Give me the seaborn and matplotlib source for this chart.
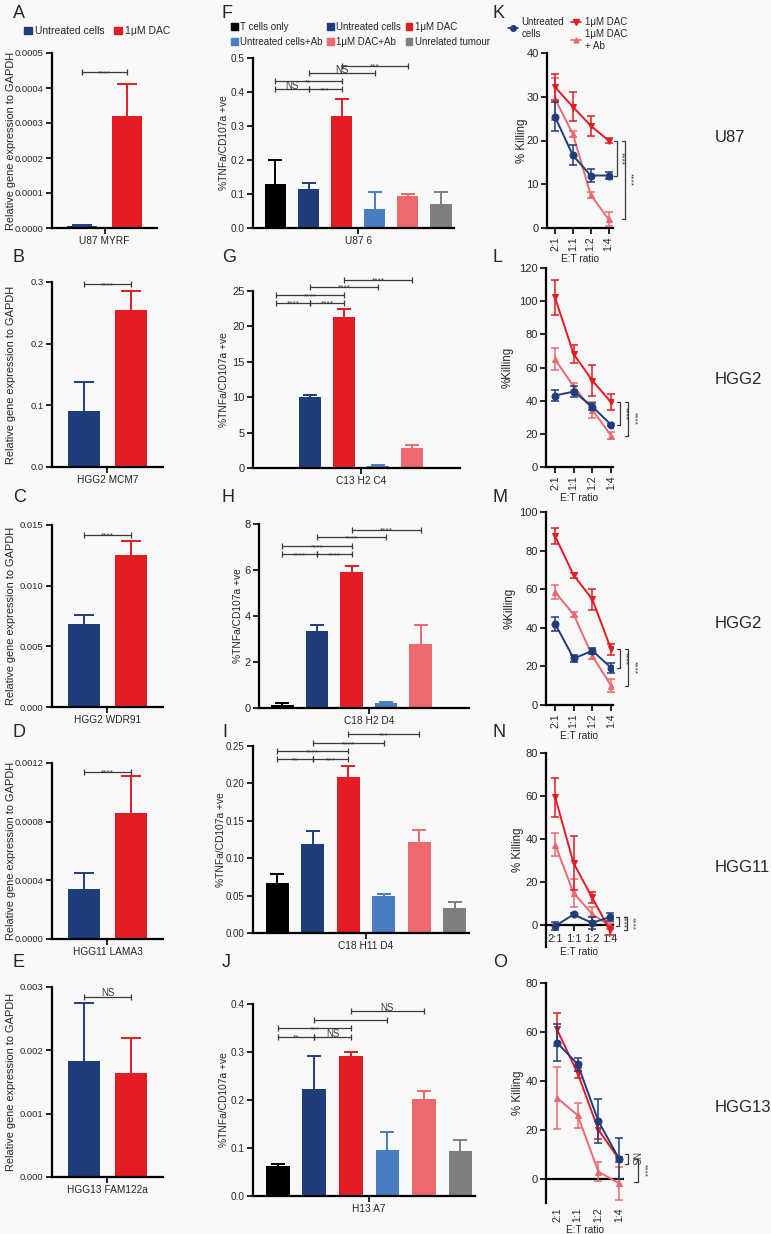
import numpy as np
import pandas as pd
import matplotlib
matplotlib.use('Agg')
import matplotlib.pyplot as plt
import matplotlib.transforms as mtransforms
import seaborn as sns
from matplotlib.patches import Patch
from matplotlib.lines import Line2D
from matplotlib.ticker import FormatStrFormatter, MultipleLocator

# ---------------- data ----------------
# column 1: qPCR
genes = ["U87 MYRF", "HGG2 MCM7", "HGG2 WDR91", "HGG11 LAMA3", "HGG13 FAM122a"]
treatments = ["Untreated cells", "1\u03bcM DAC"]
qpcr_untreated = [0.000005, 0.091, 0.0068, 0.00034, 0.00183]
qpcr_untreated_err = [0.000005, 0.047, 0.0008, 0.00011, 0.00092]
qpcr_dac = [0.00032, 0.254, 0.0125, 0.00086, 0.00165]
qpcr_dac_err = [0.00009, 0.031, 0.0012, 0.00025, 0.00054]
qpcr_sig = ["****", "****", "****", "****", "NS"]
qpcr_ymax = [0.0005, 0.3, 0.015, 0.0012, 0.003]
qpcr_ystep = [0.0001, 0.1, 0.005, 0.0004, 0.001]
qpcr_fmt = ['%.4f', '%.1f', '%.3f', '%.4f', '%.3f']
qpcr_sig_y = [0.000445, 0.297, 0.0142, 0.00114, 0.00285]

# column 2: TNFa/CD107a
conditions = ["T cells only", "Untreated cells", "1\u03bcM DAC",
              "Untreated cells+Ab", "1\u03bcM DAC+Ab", "Unrelated tumour"]
clones = ["U87 6", "C13 H2 C4", "C18 H2 D4", "C18 H11 D4", "H13 A7"]
tnf_F = [0.13, 0.115, 0.33, 0.057, 0.093, 0.07]
tnf_F_err = [0.07, 0.018, 0.05, 0.048, 0.007, 0.035]
tnf_G = [0.1, 10.0, 21.3, 0.3, 2.8, 0.1]
tnf_G_err = [0.0, 0.3, 1.1, 0.1, 0.4, 0.0]
tnf_H = [0.15, 3.35, 5.93, 0.2, 2.8, 0.02]
tnf_H_err = [0.05, 0.27, 0.24, 0.07, 0.82, 0.0]
tnf_I = [0.067, 0.119, 0.209, 0.049, 0.122, 0.034]
tnf_I_err = [0.012, 0.018, 0.014, 0.003, 0.016, 0.008]
tnf_J = [0.062, 0.222, 0.292, 0.096, 0.203, 0.094]
tnf_J_err = [0.005, 0.069, 0.007, 0.038, 0.016, 0.023]
tnf_ymax = [0.5, 25, 8, 0.25, 0.4]
tnf_ystep = [0.1, 5, 2, 0.05, 0.1]
tnf_fmt = ['%.1f', '%d', '%d', '%.2f', '%.1f']
# brackets: (bar i, bar j, y, label)
tnf_sig = [
    [(0, 1, 0.408, "NS"), (1, 2, 0.408, "***"), (0, 2, 0.432, "**"), (1, 3, 0.455, "NS"), (2, 4, 0.477, "***")],
    [(0, 1, 23.35, "****"), (1, 2, 23.35, "****"), (0, 2, 24.4, "****"), (1, 3, 25.6, "****"), (2, 4, 26.6, "****")],
    [(0, 1, 6.7, "****"), (1, 2, 6.7, "****"), (0, 2, 7.04, "****"), (1, 3, 7.42, "****"), (2, 4, 7.75, "****")],
    [(0, 1, 0.232, "**"), (1, 2, 0.232, "***"), (0, 2, 0.243, "****"), (1, 3, 0.254, "****"), (2, 4, 0.266, "***")],
    [(0, 1, 0.332, "**"), (1, 2, 0.332, "NS"), (0, 2, 0.35, "***"), (1, 3, 0.367, ""), (2, 4, 0.386, "NS")],
]

# column 3: killing
ratios = ["2:1", "1:1", "1:2", "1:4"]
series_names = ["Untreated\ncells", "1\u03bcM DAC", "1\u03bcM DAC\n+ Ab"]
kill_untreated = [[25.4, 16.6, 12.0, 12.0], [43.1, 45.5, 36.4, 25.4], [42.2, 24.1, 28.1, 19.3],
                  [-0.3, 5.1, 1.2, 3.9], [55.6, 46.8, 23.5, 8.1]]
kill_untreated_err = [[3.3, 2.3, 1.5, 0.9], [3.5, 3.4, 2.0, 0.5], [3.6, 1.7, 1.6, 2.6],
                      [1.8, 0.5, 2.8, 2.0], [7.6, 2.7, 9.0, 8.3]]
kill_dac = [[32.2, 27.7, 23.4, 20.0], [102.3, 68.0, 52.1, 39.0], [87.6, 67.2, 54.7, 28.8],
            [59.5, 29.0, 13.1, -2.3], [61.0, 43.1, 20.0, 7.9]]
kill_dac_err = [[3.0, 3.3, 2.3, 0.5], [10.5, 5.3, 9.5, 4.8], [4.2, 1.2, 5.6, 2.8],
                [9.0, 12.7, 2.5, 2.0], [6.9, 2.0, 3.7, 1.0]]
kill_dacab = [[29.5, 21.5, 7.6, 2.0], [65.0, 48.5, 34.4, 18.9], [58.6, 46.9, 25.3, 10.0],
              [37.5, 15.1, 5.4, -0.3], [33.0, 25.9, 2.8, -1.9]]
kill_dacab_err = [[4.9, 0.7, 0.7, 1.6], [6.5, 2.0, 5.0, 2.0], [3.6, 1.5, 1.7, 3.4],
                  [5.4, 6.5, 3.3, 1.5], [12.6, 5.2, 3.9, 6.8]]
kill_ylim = [(0, 40), (0, 120), (0, 100), (-10, 80), (-10, 80)]
kill_ystep = [10, 20, 20, 20, 20]
kill_ylabels = ["% Killing", "%Killing", "%Killing", "% Killing", "% Killing"]
# vertical brackets: (y1, y2, label)
kill_sig = [
    [(20.0, 12.0, "****"), (20.0, 2.0, "****")],
    [(39.0, 25.4, "****"), (39.0, 18.9, "****")],
    [(28.8, 19.3, "****"), (28.8, 10.0, "****")],
    [(3.9, -0.3, "****"), (3.9, -2.3, "****")],
    [(10.0, 6.0, "NS"), (8.0, -1.4, "****")],
]
row_labels = ["U87", "HGG2", "HGG2", "HGG11", "HGG13"]
panel_letters = [["A", "B", "C", "D", "E"], ["F", "G", "H", "I", "J"], ["K", "L", "M", "N", "O"]]

# ---------------- style ----------------
sns.set_theme(style='ticks')
plt.rcParams['font.family'] = ['Liberation Sans', 'DejaVu Sans']
plt.rcParams['axes.unicode_minus'] = False

BLUE = '#1f3d7a'
RED = '#e31b23'
LBLUE = '#4a7cc0'
LRED = '#ec6a6e'
GREY = '#7f7f7f'
BLACK = '#000000'
BG = '#f8f8f8'
BRK = '#3a3a3a'
cond_colors = [BLACK, BLUE, RED, LBLUE, LRED, GREY]

W, H = 771, 1234
fig = plt.figure(figsize=(W / 100, H / 100), dpi=100, facecolor=BG)


def add_ax(x0, x1, y0, y1, tfs=6.8):
    ax = fig.add_axes([x0 / W, 1 - y1 / H, (x1 - x0) / W, (y1 - y0) / H])
    ax.set_facecolor('none')
    for s in ['top', 'right']:
        ax.spines[s].set_visible(False)
    for s in ['left', 'bottom']:
        ax.spines[s].set_linewidth(1.6)
        ax.spines[s].set_color('black')
    ax.tick_params(axis='both', length=4, width=1.2, labelsize=tfs, pad=2, color='black')
    ax.grid(False)
    return ax


def ylabel_px(ax, text, px_right, fs):
    ax.set_ylabel(text, fontsize=fs)
    tr = mtransforms.blended_transform_factory(fig.transFigure, ax.transAxes)
    ax.yaxis.set_label_coords(px_right / W, 0.5, transform=tr)


def up_err(ax, x, y, e, color, cap):
    # upper-only error bar: stem plus top cap
    ax.plot([x, x], [y, y + e], color=color, lw=1.4, clip_on=False, solid_capstyle='butt')
    ax.plot([x], [y + e], marker='_', markersize=2 * cap, markeredgewidth=1.4,
            color=color, clip_on=False)


def hbracket(ax, x1, x2, y, text):
    ax.plot([x1, x2], [y, y], color=BRK, lw=0.9, marker='|', markersize=4,
            markeredgewidth=0.9, clip_on=False)
    if text:
        off = -2.2 if '*' in text else 0
        fs = 6 if '*' in text else 7
        ax.annotate(text, xy=((x1 + x2) / 2, y), xytext=(0, off), textcoords='offset points',
                    ha='center', va='baseline', fontsize=fs, color=BRK, annotation_clip=False)


def vbracket(ax, xb, y1, y2, text, xt):
    d = 0.16
    ax.plot([xb - d, xb, xb, xb - d], [y1, y1, y2, y2], color=BRK, lw=0.9, clip_on=False)
    fs = 6 if '*' in text else 7
    ax.text(xt, (y1 + y2) / 2, text, rotation=270, ha='center', va='center',
            fontsize=fs, color=BRK, clip_on=False)


# ---------------- column 1 ----------------
col1_boxes = [(52, 157, 53, 228), (52, 163, 282, 467), (52, 163, 525, 707),
              (52, 163, 763, 939), (52, 163, 987, 1177)]
for i in range(5):
    ax = add_ax(*col1_boxes[i])
    df = pd.DataFrame({'gene': [genes[i]] * 2, 'treatment': treatments,
                       'value': [qpcr_untreated[i], qpcr_dac[i]]})
    sns.barplot(data=df, x='gene', y='value', hue='treatment', palette=[BLUE, RED],
                width=0.85, gap=0.32, saturation=1, errorbar=None, legend=False,
                linewidth=0, ax=ax)
    bars = ax.patches
    cx = [p.get_x() + p.get_width() / 2 for p in bars]
    up_err(ax, cx[0], qpcr_untreated[i], qpcr_untreated_err[i], BLUE, 7)
    up_err(ax, cx[1], qpcr_dac[i], qpcr_dac_err[i], RED, 7)
    ax.set_xlim(-0.5, 0.5)
    ax.set_ylim(0, qpcr_ymax[i])
    ax.yaxis.set_major_locator(MultipleLocator(qpcr_ystep[i]))
    ax.yaxis.set_major_formatter(FormatStrFormatter(qpcr_fmt[i]))
    ax.set_xlabel('')
    ax.tick_params(axis='x', labelsize=7.3)
    ylabel_px(ax, 'Relative gene expression to GAPDH', 16, 7.9)
    hbracket(ax, cx[0], cx[1], qpcr_sig_y[i], qpcr_sig[i])

fig.legend(handles=[Patch(color=BLUE, label=treatments[0]), Patch(color=RED, label=treatments[1])],
           loc='center left', bbox_to_anchor=(24 / W, 1 - 31 / H), ncol=2, frameon=False,
           fontsize=7.5, handlelength=0.75, handleheight=0.75, handletextpad=0.3,
           columnspacing=0.9, borderpad=0, borderaxespad=0)

# ---------------- column 2 ----------------
col2_boxes = [(253, 454, 58, 228), (253, 460, 291, 468), (259, 469, 524, 708),
              (253, 469, 746, 933), (253, 475, 1004, 1196)]
tnf_vals = [tnf_F, tnf_G, tnf_H, tnf_I, tnf_J]
tnf_errs = [tnf_F_err, tnf_G_err, tnf_H_err, tnf_I_err, tnf_J_err]
col2_ylab_px = [229, 229, 243, 226, 229]
col2_tick_fs = [7.2, 8, 8, 7.0, 7.2]
for i in range(5):
    ax = add_ax(*col2_boxes[i], tfs=col2_tick_fs[i])
    df = pd.DataFrame({'condition': conditions, 'value': tnf_vals[i]})
    sns.barplot(data=df, x='condition', y='value', hue='condition', palette=cond_colors,
                width=0.65, saturation=1, errorbar=None, legend=False, linewidth=0, ax=ax)
    bars = ax.patches
    cx = [p.get_x() + p.get_width() / 2 for p in bars]
    for j in range(6):
        if tnf_errs[i][j] > 0:
            up_err(ax, cx[j], tnf_vals[i][j], tnf_errs[i][j], cond_colors[j], 5)
    ax.set_xlim(-0.68, 5.4)
    ax.set_ylim(0, tnf_ymax[i])
    ax.yaxis.set_major_locator(MultipleLocator(tnf_ystep[i]))
    ax.yaxis.set_major_formatter(FormatStrFormatter(tnf_fmt[i]))
    ax.set_xticks([2.5])
    ax.set_xticklabels([clones[i]])
    ax.tick_params(axis='x', labelsize=7.3)
    ax.set_xlabel('')
    ylabel_px(ax, '%TNFa/CD107a +ve', col2_ylab_px[i], 7.4)
    for (a, b, y, t) in tnf_sig[i]:
        hbracket(ax, cx[a], cx[b], y, t)

order = [0, 3, 1, 4, 2, 5]
fig.legend(handles=[Patch(color=cond_colors[k], label=conditions[k]) for k in order],
           loc='upper left', bbox_to_anchor=(231 / W, 1 - 22 / H), ncol=3, frameon=False,
           fontsize=7, handlelength=0.7, handleheight=0.7, handletextpad=0.25,
           columnspacing=0.45, labelspacing=0.5, borderpad=0, borderaxespad=0)

# ---------------- column 3 ----------------
col3_boxes = [(547, 613, 53, 228), (546, 613, 268, 467), (546, 613, 512, 705),
              (546, 613, 753, 947), (546, 624, 983, 1203)]
col3_xlim = [(-0.45, 3.25), (-0.48, 3.1), (-0.48, 3.1), (-0.5, 3.15), (-0.53, 3.24)]
col3_ylab_px = [528, 514, 516, 524, 524]
series_colors = [BLUE, RED, LRED]
series_markers = ['o', 'v', '^']
series_ms = [5, 5, 4]
idx = list(range(4))
for i in range(5):
    ax = add_ax(*col3_boxes[i], tfs=8)
    vals = [kill_untreated[i], kill_dac[i], kill_dacab[i]]
    errs = [kill_untreated_err[i], kill_dac_err[i], kill_dacab_err[i]]
    for s in [2, 1, 0]:
        sns.lineplot(x=idx, y=vals[s], color=series_colors[s], marker=series_markers[s],
                     markersize=series_ms[s], markeredgecolor=series_colors[s],
                     linewidth=1.4, ax=ax, legend=False, zorder=3)
        ax.errorbar(idx, vals[s], yerr=errs[s], fmt='none', ecolor=series_colors[s],
                    elinewidth=1.1, capsize=2.6, capthick=1.1, zorder=3, clip_on=False)
    ax.set_xlim(*col3_xlim[i])
    ax.set_ylim(*kill_ylim[i])
    lo = max(0, kill_ylim[i][0])
    ax.set_yticks(np.arange(lo, kill_ylim[i][1] + 0.1, kill_ystep[i]))
    ax.yaxis.set_major_formatter(FormatStrFormatter('%d'))
    ax.set_xticks(idx)
    ax.set_xticklabels(ratios, rotation=90, fontsize=7.5)
    ax.set_xlabel('E:T ratio', fontsize=7.3, labelpad=2)
    if i == 3:
        ax.spines['bottom'].set_position(('data', 0))
    if i == 4:
        ax.spines['bottom'].set_visible(False)
        ax.axhline(0, color='black', lw=1.6, zorder=2)
        ax.tick_params(axis='x', length=0, pad=3)
    ylabel_px(ax, kill_ylabels[i], col3_ylab_px[i], 8.3)
    (y1, y2, t1), (y3, y4, t2) = kill_sig[i]
    vbracket(ax, 3.45, y1, y2, t1, 3.72)
    vbracket(ax, 3.9, y3, y4, t2, 4.2)

fig.legend(handles=[Line2D([], [], color=BLUE, marker='o', markersize=4, lw=1.2)],
           labels=[series_names[0]], loc='upper left', bbox_to_anchor=(508 / W, 1 - 17 / H),
           frameon=False, fontsize=7, handlelength=1.0, handletextpad=0.4,
           borderpad=0, borderaxespad=0)
fig.legend(handles=[Line2D([], [], color=RED, marker='v', markersize=4, lw=1.2),
                    Line2D([], [], color=LRED, marker='^', markersize=3.5, lw=1.2)],
           labels=series_names[1:], loc='upper left', bbox_to_anchor=(571 / W, 1 - 17 / H),
           frameon=False, fontsize=7, handlelength=1.0, handletextpad=0.4, labelspacing=0.2,
           borderpad=0, borderaxespad=0)

# ---------------- row labels and panel letters ----------------
row_y = [137, 380, 623, 867, 1107]
for lab, y in zip(row_labels, row_y):
    fig.text(715 / W, 1 - y / H, lab, fontsize=12, ha='left', va='center')

letter_x = [13, 222, 493]
letter_base = [18, 262, 502, 737, 967]
for c in range(3):
    for r in range(5):
        fig.text(letter_x[c] / W, 1 - letter_base[r] / H, panel_letters[c][r], fontsize=13,
                 ha='left', va='baseline')

fig.savefig('out.png', dpi=100, facecolor=BG)
